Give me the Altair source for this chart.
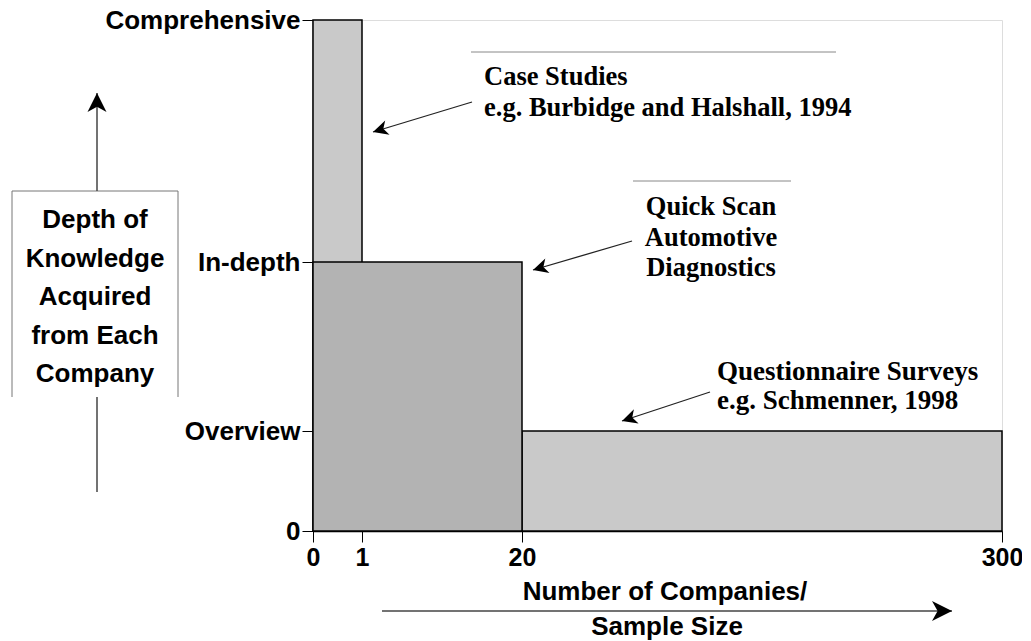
import math
import altair as alt
import pandas as pd

# ---------------- data ----------------
company_ticks = [0, 1, 20, 300]
depth_levels = [0, 1, 2, 3]
depth_names = ["0", "Overview", "In-depth", "Comprehensive"]

methods = ["Case Studies", "Questionnaire Surveys", "Quick Scan"]
companies_from = [0, 20, 0]
companies_to = [1, 300, 20]
depth_from = [0, 0, 0]
depth_to = [3, 1, 2]

case_text = ["Case Studies", "e.g. Burbidge and Halshall, 1994"]
quick_text = ["Quick Scan", "Automotive", "Diagnostics"]
survey_text = ["Questionnaire Surveys", "e.g. Schmenner, 1998"]
y_title_text = ["Depth of", "Knowledge", "Acquired", "from Each", "Company"]
x_title_text = ["Number of Companies/", "Sample Size"]

# ---------------- layout / style ----------------
W, H = 689, 511
X_RANGE = [0, 49, 209, 689]
Y_RANGE = [511, 411, 242, 0]
SANS = "Liberation Sans"
SERIF = "Liberation Serif"
HATCH = "#c9c9c9"
SOLID = "#b3b3b3"
ARROW = "M0,0 L0.5,1 L0,0.72 L-0.5,1 Z"

blocks = pd.DataFrame({
    "method": methods,
    "c0": companies_from,
    "c1": companies_to,
    "d0": depth_from,
    "d1": depth_to,
})

xs = alt.Scale(domain=company_ticks, range=X_RANGE, zero=False, nice=False)
ys = alt.Scale(domain=depth_levels, range=Y_RANGE, zero=False, nice=False)

label_expr = "[" + ",".join("'%s'" % n for n in depth_names) + "][datum.value]"

x_axis = alt.Axis(values=company_ticks, title=None, grid=False, labelFont=SANS,
                  labelFontWeight="bold", labelFontSize=25, labelColor="black",
                  tickColor="black", tickSize=11, tickWidth=1, domainColor="black",
                  domainWidth=1.5, labelPadding=3, labelFlush=False, labelOverlap=False,
                  format="d")
y_axis = alt.Axis(values=depth_levels, title=None, grid=False, labelFont=SANS,
                  labelFontWeight="bold", labelFontSize=26, labelColor="black",
                  tickColor="black", tickSize=11, tickWidth=1, domainColor="black",
                  domainWidth=1.5, labelPadding=2, labelExpr=label_expr, labelLimit=0,
                  labelFlush=False, labelOverlap=False)

rects = alt.Chart(blocks).mark_rect(stroke="black", strokeWidth=1.5).encode(
    x=alt.X("c0:Q", scale=xs, axis=x_axis),
    x2="c1:Q",
    y=alt.Y("d0:Q", scale=ys, axis=y_axis),
    y2="d1:Q",
    fill=alt.Fill("method:N", scale=alt.Scale(domain=methods, range=[HATCH, HATCH, SOLID]),
                  legend=None),
)

one = alt.Data(values=[{}])


def rule(x1, y1, x2, y2, color="#222", width=1.3):
    return alt.Chart(one).mark_rule(color=color, strokeWidth=width).encode(
        x=alt.value(x1), y=alt.value(y1), x2=alt.value(x2), y2=alt.value(y2))


def head(tail, tip, r):
    dx, dy = tip[0] - tail[0], tip[1] - tail[1]
    ang = math.degrees(math.atan2(dx, -dy)) % 360
    return alt.Chart(one).mark_point(shape=ARROW, filled=True, fill="black", opacity=1,
                                     strokeWidth=0, size=(2 * r) ** 2, angle=ang).encode(
        x=alt.value(tip[0]), y=alt.value(tip[1]))


def arrow(tail, tip, r, color="#222", width=1.3):
    return [rule(tail[0], tail[1], tip[0], tip[1], color, width), head(tail, tip, r)]


def text(lines, x, y, font, align, lh, size=26):
    return alt.Chart(one).mark_text(text=lines, font=font, fontWeight="bold", fontSize=size,
                                    align=align, baseline="alphabetic", lineHeight=lh,
                                    color="black").encode(x=alt.value(x), y=alt.value(y))


layers = [rects]
# annotation boxes' top borders
layers.append(rule(158, 32, 523, 32, color="#888", width=1))
layers.append(rule(320, 161, 478, 161, color="#888", width=1))
# annotation texts
layers.append(text(case_text, 171, 65, SERIF, "left", 30.5, size=26.5))
layers.append(text(quick_text, 398, 195, SERIF, "center", 30.5, size=26.5))
layers.append(text(survey_text, 404, 360, SERIF, "left", 29, size=27))
# annotation arrows
layers += arrow((159, 82), (60, 112), 15)
layers += arrow((319, 221), (220, 250), 15)
layers += arrow((397, 372), (309, 401), 15)
# y title box + vertical arrow
layers.append(rule(-301, 171, -135, 171, color="#777", width=1))
layers.append(rule(-301, 171, -301, 377, color="#777", width=1))
layers.append(rule(-135, 171, -135, 377, color="#777", width=1))
layers.append(text(y_title_text, -218, 208, SANS, "center", 38.5))
layers += arrow((-216, 171), (-216, 73), 19, color="#444", width=1.5)
layers.append(rule(-216, 377, -216, 472, color="#444", width=1.5))
# x title + horizontal arrow
layers.append(text([x_title_text[0]], 352, 580, SANS, "center", 30))
layers.append(text([x_title_text[1]], 354, 615, SANS, "center", 30))
layers += arrow((69, 591), (639, 591), 20, color="#444", width=1.5)

chart = alt.layer(*layers).properties(
    width=W, height=H,
    autosize=alt.AutoSizeParams(type="none"),
    padding={"left": 305, "top": 12, "right": 20, "bottom": 110},
).configure_view(stroke="#444", strokeWidth=1).configure(background="white")

chart.save("out.html", embed_options={"renderer": "svg", "actions": False})
